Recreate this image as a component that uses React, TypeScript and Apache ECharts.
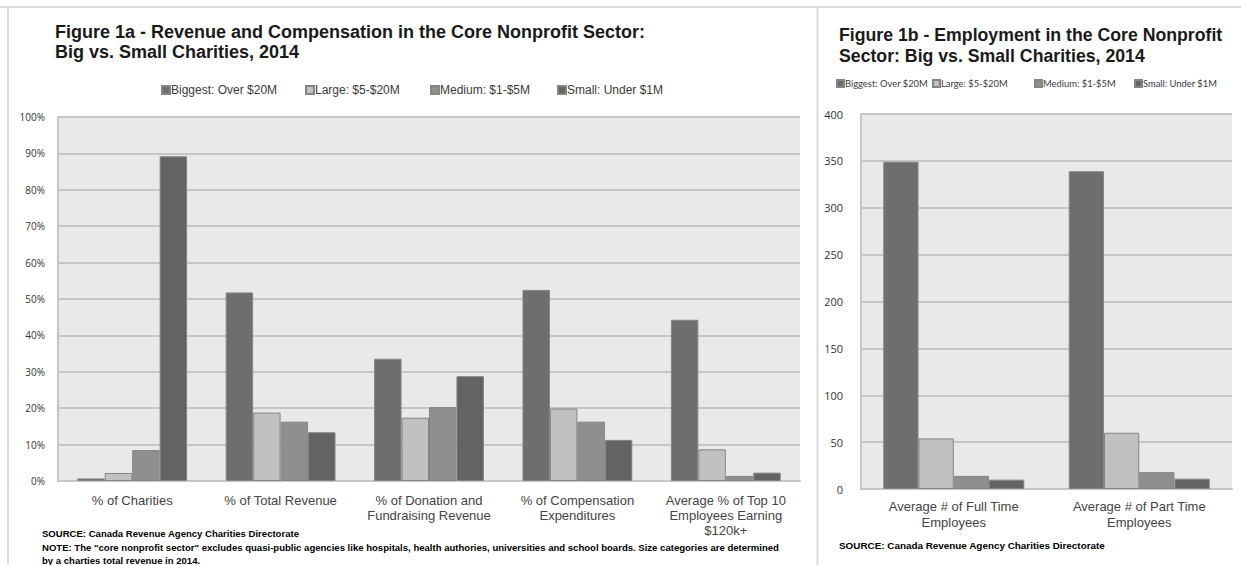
import React, { useEffect, useRef } from "react";
import * as echarts from "echarts";

// Size groups (legend order)
const sizeGroups = ["Biggest: Over $20M", "Large: $5-$20M", "Medium: $1-$5M", "Small: Under $1M"];
const groupColors = ["#6e6e6e", "#c1c1c1", "#8f8f8f", "#636363"];

// Figure 1a – shares (%) by measure
const revenueCategories = [
  "% of Charities",
  "% of Total Revenue",
  "% of Donation and\nFundraising Revenue",
  "% of Compensation\nExpenditures",
  "Average % of Top 10\nEmployees Earning\n$120k+",
];
const revenueBiggest = [0.7, 51.8, 33.6, 52.5, 44.3];
const revenueLarge = [2.2, 18.8, 17.4, 19.9, 8.7];
const revenueMedium = [8.5, 16.3, 20.3, 16.3, 1.4];
const revenueSmall = [89.2, 13.4, 28.8, 11.3, 2.3];
const revenueTicks = [0, 10, 20, 30, 40, 50, 60, 70, 80, 90, 100];

// Figure 1b – average employee counts
const employmentCategories = ["Average # of Full Time\nEmployees", "Average # of Part Time\nEmployees"];
const employmentBiggest = [349, 339];
const employmentLarge = [54, 60];
const employmentMedium = [14, 18];
const employmentSmall = [10, 11];
const employmentTicks = [0, 50, 100, 150, 200, 250, 300, 350, 400];

const revenueSeries = [revenueBiggest, revenueLarge, revenueMedium, revenueSmall];
const employmentSeries = [employmentBiggest, employmentLarge, employmentMedium, employmentSmall];

// Horizontal slots of each legend entry in the two panels (legend box has 5px padding)
const revenueLegendX = [156, 300, 425, 552];
const employmentLegendX = [831, 927, 1029, 1129];

export default function App() {
  const ref = useRef<HTMLDivElement>(null);

  useEffect(() => {
    if (!ref.current) return;
    const chart = echarts.init(ref.current, null, { renderer: "svg" });

    const gridLine = { show: true, lineStyle: { color: "#c6c6c6", width: 2 } };
    const axisBase = { show: true, lineStyle: { color: "#c6c6c6", width: 2 } };

    const barStyle = (i: number) => ({
      color: groupColors[i],
      borderColor: "#858585",
      borderWidth: 1,
    });

    const series: any[] = [];
    revenueSeries.forEach((data, i) => {
      series.push({
        type: "bar",
        name: sizeGroups[i],
        xAxisIndex: 0,
        yAxisIndex: 0,
        data,
        barGap: "0%",
        barCategoryGap: "26%",
        itemStyle: barStyle(i),
      });
    });
    employmentSeries.forEach((data, i) => {
      series.push({
        type: "bar",
        name: sizeGroups[i],
        xAxisIndex: 1,
        yAxisIndex: 1,
        data,
        barGap: "0%",
        barCategoryGap: "24%",
        itemStyle: barStyle(i),
      });
    });

    const legends: any[] = [];
    sizeGroups.forEach((name, i) => {
      legends.push({
        data: [name],
        left: revenueLegendX[i],
        top: 79,
        itemWidth: 8,
        itemHeight: 8,
        icon: "rect",
        textStyle: {
          fontFamily: "Liberation Sans",
          fontSize: 12,
          color: "#3a3a3a",
          padding: [0, 0, 0, -4],
        },
      });
      legends.push({
        data: [name],
        left: employmentLegendX[i],
        top: 74,
        itemWidth: 7,
        itemHeight: 7,
        icon: "rect",
        textStyle: {
          fontFamily: "Lato",
          fontSize: 9.4,
          color: "#3a3a3a",
          padding: [0, 0, 0, -4],
        },
      });
    });

    chart.setOption({
      animation: false,
      backgroundColor: "#ffffff",
      title: [
        {
          text: "Figure 1a - Revenue and Compensation in the Core Nonprofit Sector:\nBig vs. Small Charities, 2014",
          left: 50,
          top: 17,
          textStyle: {
            fontFamily: "Liberation Sans",
            fontWeight: "bold",
            fontSize: 18,
            lineHeight: 20,
            color: "#1a1a1a",
          },
        },
        {
          text: "Figure 1b - Employment in the Core Nonprofit\nSector: Big vs. Small Charities, 2014",
          left: 834,
          top: 19,
          textStyle: {
            fontFamily: "Liberation Sans",
            fontWeight: "bold",
            fontSize: 17.7,
            lineHeight: 21,
            color: "#1a1a1a",
          },
        },
      ],
      legend: legends,
      grid: [
        { left: 58, right: 441, top: 117, bottom: 84, show: true, backgroundColor: "#e9e9e9", borderWidth: 0 },
        { left: 861, right: 9, top: 114, bottom: 76, show: true, backgroundColor: "#e9e9e9", borderWidth: 0 },
      ],
      xAxis: [
        {
          type: "category",
          gridIndex: 0,
          data: revenueCategories,
          axisLine: axisBase,
          axisTick: { show: false },
          axisLabel: {
            interval: 0,
            margin: 12,
            fontFamily: "Liberation Sans",
            fontSize: 13,
            lineHeight: 15,
            color: "#444444",
          },
        },
        {
          type: "category",
          gridIndex: 1,
          data: employmentCategories,
          axisLine: axisBase,
          axisTick: { show: false },
          axisLabel: {
            interval: 0,
            margin: 9,
            fontFamily: "Liberation Sans",
            fontSize: 13,
            lineHeight: 16,
            color: "#444444",
          },
        },
      ],
      yAxis: [
        {
          type: "value",
          gridIndex: 0,
          min: revenueTicks[0],
          max: revenueTicks[revenueTicks.length - 1],
          interval: revenueTicks[1] - revenueTicks[0],
          axisLine: axisBase,
          axisTick: { show: false },
          splitLine: gridLine,
          axisLabel: {
            formatter: "{value}%",
            margin: 13,
            fontFamily: "Open Sans",
            fontSize: 10,
            color: "#333333",
          },
        },
        {
          type: "value",
          gridIndex: 1,
          min: employmentTicks[0],
          max: employmentTicks[employmentTicks.length - 1],
          interval: employmentTicks[1] - employmentTicks[0],
          axisLine: axisBase,
          axisTick: { show: false },
          splitLine: gridLine,
          axisLabel: {
            margin: 18,
            fontFamily: "Open Sans",
            fontSize: 11,
            color: "#333333",
          },
        },
      ],
      series,
      graphic: [
        // panel frame lines
        { type: "line", shape: { x1: 0, y1: 7, x2: 1241, y2: 7 }, style: { stroke: "#dcdcdc", lineWidth: 2 } },
        { type: "line", shape: { x1: 8, y1: 7, x2: 8, y2: 565 }, style: { stroke: "#dcdcdc", lineWidth: 2 } },
        { type: "line", shape: { x1: 817.5, y1: 7, x2: 817.5, y2: 565 }, style: { stroke: "#dcdcdc", lineWidth: 2 } },
        {
          type: "text",
          left: 42,
          top: 527,
          style: {
            text:
              "SOURCE: Canada Revenue Agency Charities Directorate\nNOTE: The \"core nonprofit sector\" excludes quasi-public agencies like hospitals, health authories, universities and school boards. Size categories are determined\nby a charties total revenue in 2014.",
            font: "bold 9.55px 'Liberation Sans Narrow', 'Liberation Sans'",
            lineHeight: 13.5,
            fill: "#000000",
          },
        },
        {
          type: "text",
          left: 839,
          top: 540,
          style: {
            text: "SOURCE: Canada Revenue Agency Charities Directorate",
            font: "bold 9.9px 'Liberation Sans Narrow', 'Liberation Sans'",
            fill: "#000000",
          },
        },
      ],
    });

    return () => chart.dispose();
  }, []);

  return (
    <div
      ref={ref}
      style={{ position: "absolute", left: 0, top: 0, width: 1241, height: 565 }}
    />
  );
}
